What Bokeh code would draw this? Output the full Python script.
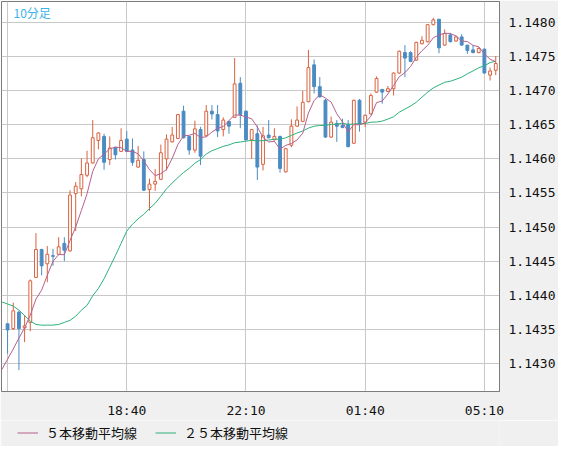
import pandas as pd
from bokeh.plotting import figure
from bokeh.layouts import column
from bokeh.models import (Range1d, FixedTicker, ColumnDataSource, Legend, LegendItem,
                          Label, PrintfTickFormatter)
from bokeh.embed import file_html
from bokeh.resources import INLINE

# ---------------- data (10-minute bars) ----------------
start_time = "15:10"
tick_labels = ["18:40", "22:10", "01:40", "05:10"]
grid_times = ["15:10", "18:40", "22:10", "01:40", "05:10"]
price_ticks = [1.1430, 1.1435, 1.1440, 1.1445, 1.1450, 1.1455,
               1.1460, 1.1465, 1.1470, 1.1475, 1.1480]

open_ = [1.14358, 1.14351, 1.14375, 1.14352, 1.14360, 1.14426, 1.14467, 1.14446, 1.14458, 1.14460,
         1.14476, 1.14465, 1.14549, 1.14556, 1.14576, 1.14594, 1.14627, 1.14633, 1.14599, 1.14617,
         1.14611, 1.14629, 1.14613, 1.14588, 1.14599, 1.14555, 1.14563, 1.14570, 1.14600, 1.14625,
         1.14630, 1.14670, 1.14633, 1.14613, 1.14643, 1.14634, 1.14670, 1.14665, 1.14643, 1.14655,
         1.14661, 1.14711, 1.14670, 1.14628, 1.14637, 1.14592, 1.14635, 1.14628, 1.14633, 1.14581,
         1.14620, 1.14648, 1.14655, 1.14684, 1.14738, 1.14706, 1.14686, 1.14632, 1.14652, 1.14649,
         1.14651, 1.14623, 1.14686, 1.14654, 1.14666, 1.14698, 1.14702, 1.14699, 1.14703, 1.14726,
         1.14756, 1.14756, 1.14745, 1.14769, 1.14772, 1.14797, 1.14805, 1.14767, 1.14782, 1.14773,
         1.14779, 1.14767, 1.14760, 1.14756, 1.14761, 1.14723, 1.14730]
high = [1.14358, 1.14389, 1.14377, 1.14371, 1.14423, 1.14491, 1.14468, 1.14472, 1.14468, 1.14485,
        1.14485, 1.14554, 1.14566, 1.14601, 1.14612, 1.14657, 1.14639, 1.14637, 1.14633, 1.14617,
        1.14645, 1.14641, 1.14630, 1.14619, 1.14611, 1.14571, 1.14585, 1.14621, 1.14636, 1.14647,
        1.14666, 1.14678, 1.14633, 1.14656, 1.14647, 1.14679, 1.14679, 1.14679, 1.14661, 1.14656,
        1.14748, 1.14720, 1.14671, 1.14644, 1.14649, 1.14647, 1.14657, 1.14645, 1.14634, 1.14616,
        1.14658, 1.14677, 1.14700, 1.14760, 1.14746, 1.14720, 1.14688, 1.14662, 1.14657, 1.14659,
        1.14657, 1.14687, 1.14688, 1.14665, 1.14696, 1.14721, 1.14702, 1.14707, 1.14727, 1.14759,
        1.14767, 1.14758, 1.14772, 1.14780, 1.14798, 1.14807, 1.14805, 1.14790, 1.14785, 1.14781,
        1.14783, 1.14767, 1.14767, 1.14764, 1.14762, 1.14734, 1.14751]
low = [1.14314, 1.14349, 1.14290, 1.14331, 1.14347, 1.14425, 1.14429, 1.14419, 1.14443, 1.14459,
       1.14450, 1.14464, 1.14494, 1.14545, 1.14573, 1.14593, 1.14614, 1.14584, 1.14591, 1.14599,
       1.14610, 1.14610, 1.14590, 1.14587, 1.14553, 1.14524, 1.14553, 1.14569, 1.14583, 1.14624,
       1.14629, 1.14630, 1.14606, 1.14609, 1.14591, 1.14633, 1.14658, 1.14632, 1.14633, 1.14637,
       1.14660, 1.14645, 1.14627, 1.14600, 1.14569, 1.14583, 1.14630, 1.14627, 1.14580, 1.14580,
       1.14617, 1.14647, 1.14654, 1.14683, 1.14696, 1.14690, 1.14631, 1.14631, 1.14625, 1.14645,
       1.14617, 1.14622, 1.14640, 1.14647, 1.14665, 1.14697, 1.14681, 1.14698, 1.14693, 1.14725,
       1.14720, 1.14742, 1.14744, 1.14768, 1.14771, 1.14796, 1.14755, 1.14766, 1.14771, 1.14772,
       1.14766, 1.14754, 1.14755, 1.14755, 1.14725, 1.14715, 1.14723]
close = [1.14349, 1.14377, 1.14351, 1.14355, 1.14421, 1.14467, 1.14443, 1.14460, 1.14457, 1.14471,
         1.14466, 1.14547, 1.14560, 1.14577, 1.14594, 1.14631, 1.14638, 1.14595, 1.14616, 1.14606,
         1.14627, 1.14611, 1.14595, 1.14598, 1.14554, 1.14563, 1.14567, 1.14609, 1.14629, 1.14635,
         1.14665, 1.14631, 1.14613, 1.14644, 1.14604, 1.14670, 1.14666, 1.14641, 1.14657, 1.14648,
         1.14710, 1.14665, 1.14628, 1.14643, 1.14588, 1.14634, 1.14631, 1.14633, 1.14586, 1.14615,
         1.14648, 1.14657, 1.14683, 1.14734, 1.14706, 1.14691, 1.14632, 1.14654, 1.14648, 1.14646,
         1.14618, 1.14686, 1.14652, 1.14664, 1.14693, 1.14718, 1.14698, 1.14703, 1.14726, 1.14758,
         1.14748, 1.14743, 1.14771, 1.14774, 1.14797, 1.14804, 1.14763, 1.14784, 1.14772, 1.14779,
         1.14767, 1.14759, 1.14756, 1.14762, 1.14726, 1.14729, 1.14740]

# moving-average values for the first bars (their windows reach before the visible
# data); bar -1 .. 3 and bar -1 .. 23
ma5_head = [1.14291, 1.14306, 1.14321, 1.14337, 1.14352]
ma25_head = [1.14390, 1.14387, 1.14384, 1.14378, 1.14370, 1.14362, 1.14357, 1.14356,
             1.14356, 1.14356, 1.14357, 1.14360, 1.14363, 1.14369, 1.14378, 1.14385,
             1.14399, 1.14410, 1.14424, 1.14441, 1.14458, 1.14476, 1.14494, 1.14504,
             1.14512]

ma5_label = "５本移動平均線"
ma25_label = "２５本移動平均線"
title_text = "10分足"

# ---------------- derived ----------------
n = len(close)
times = list(pd.date_range("2000-01-01 " + start_time, periods=n, freq="10min").strftime("%H:%M"))
idx = list(range(n))
tick_pos = [times.index(t) for t in tick_labels]
grid_pos = [times.index(t) for t in grid_times]

cs = pd.Series(close)
ma5 = ma5_head + list(cs.rolling(5).mean().iloc[len(ma5_head) - 1:])
ma25 = ma25_head + list(cs.rolling(25).mean().iloc[len(ma25_head) - 1:])
ma_x = list(range(-1, n))

up = [c >= o for o, c in zip(open_, close)]
def pick(lst, flag):
    return [v for v, u in zip(lst, up) if u == flag]

def src(flag):
    o, c = pick(open_, flag), pick(close, flag)
    return ColumnDataSource(dict(
        x=pick(idx, flag), high=pick(high, flag), low=pick(low, flag),
        top=[max(a, b) for a, b in zip(o, c)], bottom=[min(a, b) for a, b in zip(o, c)]))

src_up, src_dn = src(True), src(False)

RED = "#d9623f"
BLUE = "#4b8bc3"
MA5_C = "#b5608e"
MA25_C = "#2cb27a"
MONO = "DejaVu Sans Mono"
BAND = "#f0f0f0"

W = 558
LEG_H = 26

p = figure(width=W, height=446 - LEG_H, output_backend="svg", toolbar_location=None,
           x_range=Range1d(-1.07, 86.66), y_range=Range1d(1.142586, 1.14831),
           y_axis_location="right", min_border_left=1, min_border_top=1,
           min_border_right=50, min_border_bottom=24)
p.background_fill_color = "white"
p.border_fill_color = BAND
p.outline_line_color = "#7c7c7c"
p.outline_line_width = 1

p.xgrid.ticker = FixedTicker(ticks=grid_pos)
p.ygrid.ticker = FixedTicker(ticks=price_ticks)
for g in (p.xgrid, p.ygrid):
    g.grid_line_color = "#c8c8c8"
    g.grid_line_width = 1

p.segment(x0="x", y0="high", x1="x", y1="low", source=src_up, line_color=RED, line_width=1)
p.segment(x0="x", y0="high", x1="x", y1="low", source=src_dn, line_color=BLUE, line_width=1)
p.vbar(x="x", width=0.5, top="top", bottom="bottom", source=src_up,
       fill_color="white", line_color=RED, line_width=1)
p.vbar(x="x", width=0.5, top="top", bottom="bottom", source=src_dn,
       fill_color=BLUE, line_color=BLUE, line_width=1)

r25 = p.line(ma_x, ma25, line_color=MA25_C, line_width=1)
r5 = p.line(ma_x, ma5, line_color=MA5_C, line_width=1)

# axes
p.xaxis.ticker = FixedTicker(ticks=tick_pos)
p.xaxis.major_label_overrides = {pos: lab for pos, lab in zip(tick_pos, tick_labels)}
p.yaxis.ticker = FixedTicker(ticks=price_ticks)
p.yaxis.formatter = PrintfTickFormatter(format="%.4f")
for ax in (p.xaxis[0], p.yaxis[0]):
    ax.axis_line_color = "#7c7c7c"
    ax.major_tick_line_color = None
    ax.minor_tick_line_color = None
    ax.major_label_text_font = MONO
    ax.major_label_text_font_size = "13px"
    ax.major_label_text_color = "#111111"
p.xaxis.major_label_standoff = 5
p.yaxis.major_label_standoff = 3

p.add_layout(Label(x=-1.07, y=1.14831, x_offset=12, y_offset=-2, text=title_text,
                   text_baseline="top", text_color="#3cb2ea", text_font="Noto Sans CJK JP",
                   text_font_size="12px"))

# ---------------- legend strip under the chart ----------------
# the strip re-uses the two moving-average series (its ranges keep them out of view)
lg = figure(width=W, height=LEG_H, output_backend="svg", toolbar_location=None,
            x_axis_type=None, y_axis_type=None, x_range=Range1d(-3, -2), y_range=Range1d(0, 1),
            min_border=0)
lg.grid.visible = False
lg.background_fill_color = BAND
lg.border_fill_color = BAND
lg.outline_line_color = None
l5 = lg.line(ma_x, ma5, line_color=MA5_C, line_width=1)
l25 = lg.line(ma_x, ma25, line_color=MA25_C, line_width=1)
legend = Legend(items=[LegendItem(label=ma5_label, renderers=[l5]),
                       LegendItem(label=ma25_label, renderers=[l25])],
                orientation="horizontal", location=(14, 2))
legend.background_fill_alpha = 0
legend.border_line_alpha = 0
legend.label_text_font = "Noto Sans CJK JP"
legend.label_text_font_size = "13px"
legend.label_text_color = "#111111"
legend.glyph_width = 21
legend.glyph_height = 13
legend.label_standoff = 8
legend.spacing = 18
legend.padding = 2
legend.margin = 0
lg.add_layout(legend, "center")

layout = column(p, lg, spacing=0)
open("out.html", "w").write(file_html(layout, INLINE))
